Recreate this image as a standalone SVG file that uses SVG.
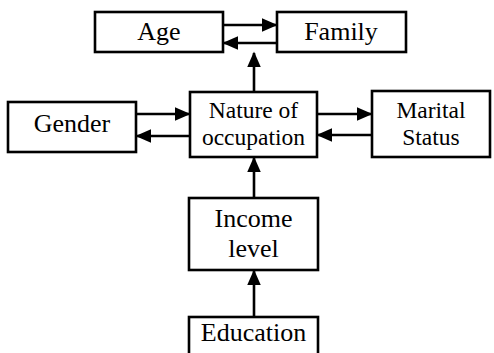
<svg xmlns="http://www.w3.org/2000/svg" width="494" height="353" viewBox="0 0 494 353">
<defs>
<style>
.box{fill:#fff;stroke:#000;stroke-width:2.6}
.t{font-family:"Liberation Serif","Times New Roman",serif;fill:#000;text-anchor:middle}
.big{font-size:26px}
.mid{font-size:23.5px}
.ln{stroke:#000;stroke-width:2.6;fill:none;marker-end:url(#ah)}
</style>
<marker id="ah" markerWidth="6" markerHeight="5.2" refX="5.4" refY="2.6" orient="auto" markerUnits="strokeWidth">
<path d="M0,0 L6,2.6 L0,5.2 Z" fill="#000"/>
</marker>
</defs>
<rect width="494" height="353" fill="#fff"/>
<g id="connectors">
<line class="ln" x1="223" y1="25" x2="276" y2="25"/>
<line class="ln" x1="277" y1="43" x2="224" y2="43"/>
<line class="ln" x1="254" y1="92" x2="254" y2="53"/>
<line class="ln" x1="136" y1="114" x2="189" y2="114"/>
<line class="ln" x1="190" y1="136" x2="137" y2="136"/>
<line class="ln" x1="317" y1="114" x2="371" y2="114"/>
<line class="ln" x1="372" y1="135" x2="318" y2="135"/>
<line class="ln" x1="254" y1="198" x2="254" y2="158"/>
<line class="ln" x1="254" y1="317" x2="254" y2="271"/>
</g>
<g id="age"><rect class="box" x="95" y="12" width="128" height="40"/><text class="t big" x="159" y="40">Age</text></g>
<g id="family"><rect class="box" x="277" y="12" width="129" height="40"/><text class="t big" x="341" y="40">Family</text></g>
<g id="gender"><rect class="box" x="8" y="102" width="128" height="50"/><text class="t big" x="72" y="132">Gender</text></g>
<g id="nature"><rect class="box" x="190" y="92" width="127" height="65"/><text class="t mid" x="253.5" y="118">Nature of</text><text class="t mid" x="253.5" y="145">occupation</text></g>
<g id="marital"><rect class="box" x="372" y="91" width="118" height="66"/><text class="t mid" x="431" y="118">Marital</text><text class="t mid" x="431" y="145">Status</text></g>
<g id="income"><rect class="box" x="189" y="198" width="129" height="72"/><text class="t big" x="253.5" y="227">Income</text><text class="t big" x="253.5" y="257">level</text></g>
<g id="education"><rect class="box" x="189" y="317" width="129" height="45"/><text class="t big" x="253.5" y="341">Education</text></g>
</svg>
